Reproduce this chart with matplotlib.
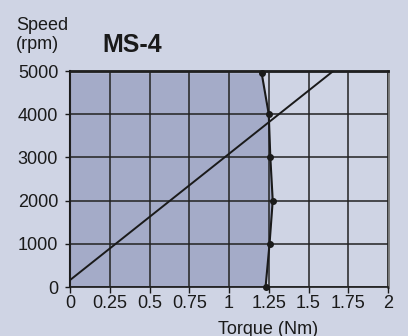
import matplotlib
matplotlib.use("Agg")
import matplotlib.pyplot as plt

# limit curve (torque vs speed)
curve_speed = [0, 1000, 2000, 3000, 4000, 4960]
curve_torque = [1.23, 1.255, 1.275, 1.26, 1.25, 1.205]

# load line
line_torque = [0, 1.656]
line_speed = [160, 5000]

x_ticks = [0, 0.25, 0.5, 0.75, 1, 1.25, 1.5, 1.75, 2]
x_labels = ["0", "0.25", "0.5", "0.75", "1", "1.25", "1.5", "1.75", "2"]
y_ticks = [0, 1000, 2000, 3000, 4000, 5000]

bg = "#cfd4e4"
fill = "#a4abc8"

plt.rcParams["font.family"] = ["Liberation Sans", "DejaVu Sans"]

fig = plt.figure(figsize=(4.08, 3.36), dpi=100, facecolor=bg)
ax = fig.add_axes([70 / 408, 49 / 336, 318 / 408, 216 / 336])
ax.set_facecolor(bg)

ax.fill_betweenx(curve_speed, 0, curve_torque, color=fill, lw=0, zorder=1)
ax.set_xlim(0, 2)
ax.set_ylim(0, 5000)
ax.set_xticks(x_ticks)
ax.set_xticklabels(x_labels)
ax.set_yticks(y_ticks)
ax.grid(True, color="#222222", lw=1.1, zorder=2)
ax.set_axisbelow(False)

ax.plot(curve_torque, curve_speed, color="#1a1a1a", lw=1.5, marker="o",
        ms=4, zorder=4, clip_on=False)
ax.plot(line_torque, line_speed, color="#1a1a1a", lw=1.4, zorder=3)

for s in ["top", "bottom", "left"]:
    ax.spines[s].set_color("#1a1a1a")
ax.spines["top"].set_linewidth(2)
ax.spines["bottom"].set_linewidth(1.2)
ax.spines["left"].set_linewidth(1.5)
ax.spines["right"].set_color("#777777")
ax.spines["right"].set_linewidth(2)

ax.tick_params(axis="y", length=3.5, width=1, pad=5, labelsize=13,
               colors="#1a1a1a")
ax.tick_params(axis="x", length=4, width=1, pad=1.5, labelsize=13,
               colors="#1a1a1a")

fig.text(16 / 408, 1 - 30 / 336, "Speed", fontsize=13, color="#1a1a1a")
fig.text(16 / 408, 1 - 49 / 336, "(rpm)", fontsize=13, color="#1a1a1a")
fig.text(102 / 408, 1 - 52 / 336, "MS-4", fontsize=18, fontweight="bold",
         color="#1a1a1a")
fig.text(268 / 408, 1 - 334 / 336, "Torque (Nm)", fontsize=13,
         color="#1a1a1a", ha="center")

fig.savefig("out.png", dpi=100, facecolor=bg)
